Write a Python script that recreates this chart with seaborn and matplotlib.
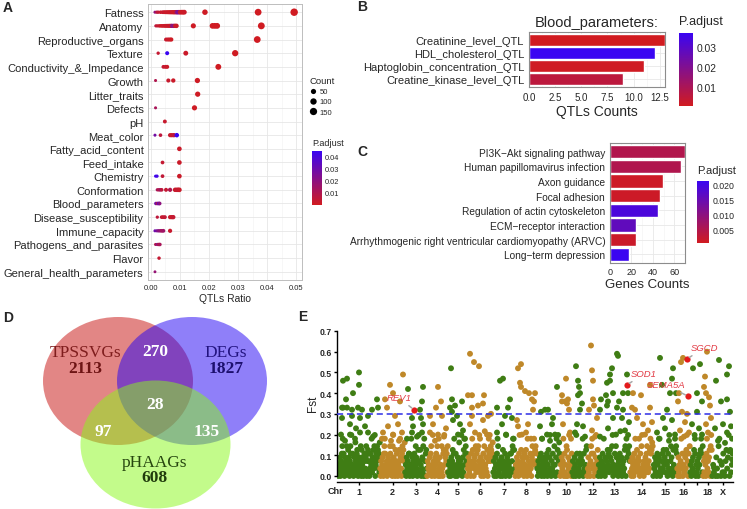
import numpy as np
import pandas as pd
import matplotlib
matplotlib.use('Agg')
import matplotlib as mpl
import matplotlib.pyplot as plt
import seaborn as sns
from matplotlib.colors import LinearSegmentedColormap, Normalize
from matplotlib.patches import Ellipse
from matplotlib.lines import Line2D
from matplotlib.ticker import MultipleLocator, FormatStrFormatter

# ---------------- data: panel A (QTL enrichment) ----------------
qtl_traits = ['Fatness', 'Anatomy', 'Reproductive_organs', 'Texture', 'Conductivity_&_Impedance',
              'Growth', 'Litter_traits', 'Defects', 'pH', 'Meat_color', 'Fatty_acid_content',
              'Feed_intake', 'Chemistry', 'Conformation', 'Blood_parameters', 'Disease_susceptibility',
              'Immune_capacity', 'Pathogens_and_parasites', 'Flavor', 'General_health_parameters']
# (QTLs ratio, count, p.adjust)
qtl_points = {
    'Fatness': [(0.0014, 5, .020), (0.0020, 7, .008), (0.0025, 8, .005), (0.0033, 11, .003), (0.0040, 13, .002),
                (0.0045, 15, .004), (0.0050, 17, .001), (0.0055, 18, .003), (0.0060, 20, .002), (0.0065, 22, .001),
                (0.0070, 23, .004), (0.0075, 25, .002), (0.0080, 27, .001), (0.0085, 28, .005), (0.0090, 30, .020),
                (0.0095, 31, .028), (0.0100, 33, .003), (0.0105, 35, .002), (0.0110, 36, .001), (0.0115, 38, .002),
                (0.0186, 62, .001), (0.0369, 122, .0005), (0.0493, 163, .0005)],
    'Anatomy': [(0.0017, 6, .006), (0.0022, 7, .004), (0.0028, 9, .003), (0.0033, 11, .002), (0.0038, 13, .001),
                (0.0043, 14, .003), (0.0048, 16, .002), (0.0053, 18, .001), (0.0058, 19, .004), (0.0063, 21, .002),
                (0.0068, 23, .001), (0.0072, 24, .018), (0.0078, 26, .022), (0.0083, 27, .003), (0.0088, 29, .002),
                (0.0146, 48, .001), (0.0212, 70, .0008), (0.0220, 73, .0008), (0.0228, 75, .0008), (0.0380, 126, .0005)],
    'Reproductive_organs': [(0.0052, 17, .003), (0.0058, 19, .002), (0.0064, 21, .002), (0.0070, 23, .001), (0.0366, 121, .0005)],
    'Texture': [(0.0025, 8, .004), (0.0056, 18, .045), (0.0120, 40, .002), (0.0290, 96, .0006)],
    'Conductivity_&_Impedance': [(0.0043, 14, .004), (0.0050, 17, .003), (0.0056, 18, .002), (0.0232, 77, .0007)],
    'Growth': [(0.0016, 5, .010), (0.0060, 20, .003), (0.0077, 25, .002), (0.0160, 53, .001)],
    'Litter_traits': [(0.0161, 53, .001)],
    'Defects': [(0.0016, 5, .012), (0.0150, 50, .001)],
    'pH': [(0.0048, 16, .003)],
    'Meat_color': [(0.0014, 5, .028), (0.0033, 11, .006), (0.0066, 22, .003), (0.0072, 24, .002), (0.0079, 26, .006), (0.0089, 29, .045)],
    'Fatty_acid_content': [(0.0098, 33, .002)],
    'Feed_intake': [(0.0040, 13, .004), (0.0098, 33, .002)],
    'Chemistry': [(0.0016, 5, .045), (0.0021, 7, .042), (0.0040, 13, .005), (0.0098, 33, .002)],
    'Conformation': [(0.0022, 7, .012), (0.0027, 9, .008), (0.0032, 11, .015), (0.0037, 12, .006), (0.0052, 17, .004),
                     (0.0066, 22, .010), (0.0083, 27, .003), (0.0088, 29, .002), (0.0093, 31, .004), (0.0098, 33, .002)],
    'Blood_parameters': [(0.0017, 9, .030), (0.0022, 11, .012), (0.0027, 12, .037), (0.0030, 13, .020)],
    'Disease_susceptibility': [(0.0022, 7, .006), (0.0037, 12, .004), (0.0042, 14, .003), (0.0048, 16, .005),
                               (0.0066, 22, .003), (0.0072, 24, .002), (0.0077, 25, .004)],
    'Immune_capacity': [(0.0014, 5, .030), (0.0021, 7, .025), (0.0027, 9, .020), (0.0033, 11, .018),
                        (0.0038, 12, .012), (0.0043, 14, .015), (0.0066, 22, .003)],
    'Pathogens_and_parasites': [(0.0016, 5, .010), (0.0022, 7, .020), (0.0027, 9, .008), (0.0031, 10, .012)],
    'Flavor': [(0.0028, 9, .004)],
    'General_health_parameters': [(0.0014, 4, .018)],
}
count_legend = [50, 100, 150]

# ---------------- data: panel B ----------------
blood_qtls = ['Creatinine_level_QTL', 'HDL_cholesterol_QTL', 'Haptoglobin_concentration_QTL', 'Creatine_kinase_level_QTL']
blood_counts = [13, 12, 11, 9]
blood_padj = [0.0006, 0.0370, 0.0012, 0.0055]

# ---------------- data: panel C ----------------
kegg_terms = ['PI3K\u2212Akt signaling pathway', 'Human papillomavirus infection', 'Axon guidance', 'Focal adhesion',
              'Regulation of actin cytoskeleton', 'ECM\u2212receptor interaction',
              'Arrhythmogenic right ventricular cardiomyopathy (ARVC)', 'Long\u2212term depression']
kegg_counts = [70, 66, 49, 47, 45, 24, 24, 18]
kegg_padj = [0.0050, 0.0052, 0.0012, 0.0013, 0.0190, 0.0160, 0.0016, 0.0212]

# ---------------- data: panel D (Venn) ----------------
venn_names = ['TPSSVGs', 'DEGs', 'pHAAGs']
venn_only = [2113, 1827, 608]
venn_ab, venn_ac, venn_bc, venn_abc = 270, 97, 135, 28

# ---------------- data: panel E (Fst Manhattan) ----------------
chroms = ['1', '2', '3', '4', '5', '6', '7', '8', '9', '10', '11', '12', '13', '14', '15', '16', '17', '18', 'X']
chrom_span = [42, 25, 22, 21, 19, 26, 22, 22, 23, 12, 15, 11, 32, 23, 24, 13, 13, 9, 21]
# dense low-Fst windows in SNP order: base-36 digit d = Fst of d*0.018
fst_low = {
    '1': '0312504168a362051428317250486b13620153942671035142807352016425801476402613a154728b03648572619',
    '2': '2041352068a63140251438624108b53207146203174a5206857419',
    '3': '130524166023a15042613852047b4173025180a40672',
    '4': '04231526803b14205361840a2503182067b3574618',
    '5': '130420514736a2061305249143b20517a36846',
    '6': '0235142063a7402538162784b1350241608c3251704a6b487569',
    '7': '14025306a814203520741360b2514302661487a72',
    '8': '03152406b32715420631750a24136205846a37846',
    '9': '204135260a14305241603715b20426138305a17b496',
    '10': '031524a0613087052b41306',
    '11': '1402530b6142063514a0621378',
    '12': '025130486a260315b247',
    '13': '0315204163a205142736175248b0316285130426c1503142780a57b684',
    '14': '140253061a42735140628b13042516831427a6798',
    '15': '03251406315a0241627351473062b148520731a786',
    '16': '2051304a260361527b40638',
    '17': '13042517b60314205367a618',
    '18': '0415306a2415708b7',
    'X': '031205208a40316104725b07136',
}
# high-Fst windows: (position within chromosome, Fst x100)
fst_high = {
    '1': [(5, 46), (9, 47), (21, 50), (21, 44), (15, 40), (8, 37), (5, 33), (9, 33), (4, 33), (14, 32), (20, 33), (24, 32),
          (4, 28), (14, 29), (22, 28), (12, 25), (18, 23), (3, 20), (12, 20), (22, 21), (30, 29), (34, 32), (30, 21),
          (39, 37), (40, 33), (27, 24), (35, 19), (7, 17), (17, 18)],
    '2': [(10, 44), (13, 40), (23, 49), (5, 37), (7, 33), (20, 36), (15, 29), (8, 24), (18, 25), (3, 21), (22, 21),
          (13, 20), (2, 18), (11, 17), (19, 17)],
    '3': [(3, 42), (18, 43), (17, 36), (7, 28), (15, 32), (16, 28), (18, 25), (8, 24), (7, 21), (17, 21), (12, 19), (2, 18)],
    '4': [(11, 43), (14, 36), (9, 33), (3, 29), (6, 25), (15, 29), (11, 20), (3, 21), (8, 17), (17, 19), (19, 23)],
    '5': [(3, 52), (4, 37), (7, 34), (14, 36), (4, 31), (9, 29), (12, 25), (5, 27), (10, 20), (2, 33), (15, 22), (17, 18)],
    '6': [(3, 59), (7, 55), (12, 53), (1, 39), (5, 39), (17, 39), (11, 34), (16, 35), (5, 33), (5, 29), (3, 25), (16, 27),
          (21, 29), (8, 21), (20, 20), (24, 30), (13, 18)],
    '7': [(7, 46), (10, 47), (17, 37), (4, 33), (15, 33), (12, 29), (9, 25), (4, 21), (19, 28), (13, 20), (20, 18)],
    '8': [(3, 52), (6, 54), (5, 45), (6, 43), (10, 41), (14, 40), (17, 37), (2, 27), (3, 24), (7, 20), (13, 25), (18, 32),
          (20, 40), (19, 36), (11, 21), (16, 18)],
    '9': [(8, 32), (11, 32), (3, 24), (15, 25), (16, 28), (20, 43), (18, 20), (10, 20), (4, 31), (5, 18), (13, 17)],
    '10': [(6, 47), (2, 36), (5, 36), (8, 37), (7, 35), (3, 25), (10, 21), (9, 32), (2, 39), (11, 18)],
    '11': [(4, 53), (6, 46), (7, 43), (8, 40), (6, 39), (10, 35), (8, 32), (5, 25), (11, 24), (3, 21), (13, 19)],
    '12': [(4, 63), (5, 51), (6, 46), (6, 37), (2, 32), (10, 28), (5, 22), (7, 34), (8, 19)],
    '13': [(19, 59), (20, 58), (14, 52), (12, 49), (12, 46), (9, 45), (8, 39), (3, 37), (10, 36), (15, 40), (21, 36),
           (19, 33), (29, 49), (25, 40), (30, 40), (2, 32), (9, 34), (25, 32), (24, 28), (15, 28), (10, 23), (2, 19),
           (27, 22), (18, 20), (31, 26)],
    '14': [(3, 40), (11, 39), (2, 33), (7, 28), (13, 25), (18, 22), (20, 44), (5, 32), (15, 20), (20, 33), (9, 18), (22, 26)],
    '15': [(7, 57), (9, 44), (19, 47), (20, 52), (17, 40), (23, 40), (14, 32), (10, 28), (19, 27), (4, 21), (12, 23),
           (22, 20), (6, 18), (16, 17)],
    '16': [(4, 55), (6, 57), (1, 36), (2, 40), (5, 31), (8, 26), (3, 22), (10, 30), (7, 19), (12, 21)],
    '17': [(3, 52), (7, 40), (10, 54), (12, 36), (7, 31), (2, 25), (12, 20), (5, 18), (9, 23)],
    '18': [(4, 60), (2, 48), (1, 43), (7, 34), (3, 25), (5, 21), (3, 40), (6, 38), (8, 28)],
    'X': [(7, 56), (17, 53), (4, 46), (15, 49), (9, 36), (15, 37), (18, 31), (11, 25), (15, 21), (20, 18), (3, 23),
          (19, 24), (6, 17), (13, 16), (17, 12), (20, 8), (2, 4)],
}
fst_threshold = 0.3
gene_names = ['REV1', 'SOD1', 'SGCD', 'SEMA5A']
gene_chrom = ['3', '13', '16', '16']
gene_offset = [9, 29, 10, 11]
gene_fst = [0.32, 0.44, 0.565, 0.385]

# ---------------- style ----------------
sns.set_theme(style='white')
plt.rcParams['font.family'] = ['Liberation Sans', 'DejaVu Sans']
plt.rcParams['axes.unicode_minus'] = True

W, H = 747, 510
fig = plt.figure(figsize=(W / 100, H / 100), dpi=100)


def px_axes(l, t, r, b):
    return fig.add_axes([l / W, 1 - b / H, (r - l) / W, (b - t) / H])


def ftext(x, y, s, **kw):
    return fig.text(x / W, 1 - y / H, s, **kw)


cmap = LinearSegmentedColormap.from_list('padj', ['#d11b20', '#3a05f2'])

# ================= Panel D (Venn) drawn first so others sit on top =================
axD = px_axes(0, 305, 280, 510)
axD.set_xlim(0, 280)
axD.set_ylim(510, 305)
axD.axis('off')
venn_fill = ['#c70f0d', '#2101f5', '#89f919']
venn_centers = [(118, 382), (192, 382), (155.5, 445.5)]
for (cx, cy), fc in zip(venn_centers, venn_fill):
    axD.add_patch(Ellipse((cx, cy), 150, 128, facecolor=fc, edgecolor='none', alpha=0.5))
serif = ['Liberation Serif', 'DejaVu Serif']
fsV = 12.5
axD.text(85, 353, venn_names[0], color='#7f1d1d', fontsize=fsV, family=serif, ha='center', va='center')
axD.text(85, 369, str(venn_only[0]), color='#6e1414', fontsize=fsV, family=serif, fontweight='bold', ha='center', va='center')
axD.text(226, 353, venn_names[1], color='#22137f', fontsize=fsV, family=serif, ha='center', va='center')
axD.text(226, 369, str(venn_only[1]), color='#1c0f6e', fontsize=fsV, family=serif, fontweight='bold', ha='center', va='center')
axD.text(155, 463, venn_names[2], color='#26460f', fontsize=fsV, family=serif, ha='center', va='center')
axD.text(155, 478, str(venn_only[2]), color='#203c0c', fontsize=fsV, family=serif, fontweight='bold', ha='center', va='center')
for (x, y), v in zip([(155, 352), (103, 432), (207, 432), (155, 405)], [venn_ab, venn_ac, venn_bc, venn_abc]):
    axD.text(x, y, str(v), color='white', fontsize=fsV, family=serif, fontweight='bold', ha='center', va='center')

# ================= Panel A =================
rows = []
for tr in qtl_traits:
    for r, c, p in qtl_points[tr]:
        rows.append((tr, r, c, p))
dfA = pd.DataFrame(rows, columns=['trait', 'ratio', 'count', 'padj'])

c0, c1 = 3, 165


def count_area(c):
    d = 1.8 + 3.6 * np.sqrt(max(c - c0, 0) / (c1 - c0))
    return d * d


size_map = {c: count_area(c) for c in sorted(dfA['count'].unique())}

axA = px_axes(148, 5, 302, 281)
normA = Normalize(0, 0.045)
sns.scatterplot(data=dfA, x='ratio', y='trait', hue='padj', palette=cmap, hue_norm=normA,
                size='count', sizes=size_map, legend=False, linewidth=0, ax=axA, zorder=3)
axA.set_xlim(-0.001, 0.052)
axA.set_ylim(len(qtl_traits) - 0.4, -0.6)
axA.set_yticks(range(len(qtl_traits)))
axA.set_yticklabels(qtl_traits, fontsize=8)
axA.set_xticks([0, 0.01, 0.02, 0.03, 0.04, 0.05])
axA.xaxis.set_major_formatter(FormatStrFormatter('%.2f'))
axA.xaxis.set_minor_locator(MultipleLocator(0.005))
axA.tick_params(axis='x', labelsize=5.5, length=2, width=0.5, pad=0.8, color='#333333')
axA.tick_params(axis='y', length=2, width=0.5, pad=1.2, color='#333333')
axA.set_axisbelow(True)
axA.grid(True, which='major', color='#e6e6e6', lw=0.6)
axA.grid(True, which='minor', axis='x', color='#f1f1f1', lw=0.4)
for s in axA.spines.values():
    s.set_color('#bdbdbd')
    s.set_linewidth(0.7)
axA.set_xlabel('QTLs Ratio', fontsize=7.4, labelpad=1.5)
axA.set_ylabel('')

handles = [Line2D([], [], marker='o', ls='', color='black', markeredgewidth=0,
                  markersize=np.sqrt(count_area(c))) for c in count_legend]
lg = fig.legend(handles, [str(c) for c in count_legend], title='Count', loc='upper left',
                bbox_to_anchor=(309 / W, 1 - 77 / H), frameon=False, fontsize=5.5, title_fontsize=6.8,
                handlelength=1.0, handletextpad=0.4, labelspacing=0.38, borderaxespad=0, borderpad=0)
lg._legend_box.align = 'left'

ftext(312, 143, 'P.adjust', fontsize=6.5, ha='left', va='center')
caxA = px_axes(312, 152, 322, 206)
cbA = fig.colorbar(mpl.cm.ScalarMappable(norm=normA, cmap=cmap), cax=caxA, ticks=[0.01, 0.02, 0.03, 0.04])
cbA.outline.set_visible(False)
cbA.ax.yaxis.set_major_formatter(FormatStrFormatter('%.2f'))
cbA.ax.tick_params(labelsize=5.3, length=2, width=0.5, color='white', direction='in', pad=2)


# ================= bar panels helper =================
def style_bar_axes(ax):
    ax.set_axisbelow(True)
    ax.grid(True, which='major', color='#e8e8e8', lw=0.6)
    ax.grid(True, which='minor', axis='x', color='#f2f2f2', lw=0.4)
    for s in ax.spines.values():
        s.set_color('#8c8c8c')
        s.set_linewidth(0.8)


# ================= Panel B =================
normB = Normalize(0.0005, 0.037)
colB = [cmap(normB(p)) for p in blood_padj]
axB = px_axes(529, 33, 665, 88)
sns.barplot(x=blood_counts, y=blood_qtls, hue=blood_qtls, palette=colB, legend=False,
            saturation=1, width=0.9, ax=axB, orient='h')
axB.set_xlim(0, 13)
axB.set_ylim(len(blood_qtls) - 0.4, -0.6)
axB.set_xticks([0, 2.5, 5, 7.5, 10, 12.5])
axB.set_xticklabels(['0.0', '2.5', '5.0', '7.5', '10.0', '12.5'])
axB.xaxis.set_minor_locator(MultipleLocator(1.25))
axB.tick_params(axis='x', labelsize=7, length=2.5, width=0.6, pad=1.1, color='#333333')
axB.tick_params(axis='y', labelsize=8, length=2.5, width=0.6, pad=1, color='#333333')
style_bar_axes(axB)
axB.set_xlabel('QTLs Counts', fontsize=10, labelpad=1.5)
axB.set_title('Blood_parameters:', fontsize=10.5, pad=4)

ftext(679, 22, 'P.adjust', fontsize=9, ha='left', va='center')
caxB = px_axes(679, 34, 693, 107)
cbB = fig.colorbar(mpl.cm.ScalarMappable(norm=normB, cmap=cmap), cax=caxB, ticks=[0.01, 0.02, 0.03])
cbB.outline.set_visible(False)
cbB.ax.yaxis.set_major_formatter(FormatStrFormatter('%.2f'))
cbB.ax.tick_params(labelsize=7.4, length=2.5, width=0.5, color='white', direction='in', pad=2.5)

# ================= Panel C =================
normC = Normalize(0.0006, 0.0213)
colC = [cmap(normC(p)) for p in kegg_padj]
axC = px_axes(610, 144, 685, 264)
sns.barplot(x=kegg_counts, y=kegg_terms, hue=kegg_terms, palette=colC, legend=False,
            saturation=1, width=0.9, ax=axC, orient='h')
axC.set_xlim(0, 70)
axC.set_ylim(len(kegg_terms) - 0.4, -0.6)
axC.set_xticks([0, 20, 40, 60])
axC.xaxis.set_minor_locator(MultipleLocator(10))
axC.tick_params(axis='x', labelsize=6.5, length=2.5, width=0.6, pad=0.7, color='#333333')
axC.tick_params(axis='y', labelsize=7.3, length=2.5, width=0.6, pad=1, color='#333333')
style_bar_axes(axC)
axC.set_xlabel('Genes Counts', fontsize=9.5, labelpad=1)

ftext(697, 171, 'P.adjust', fontsize=8, ha='left', va='center')
caxC = px_axes(697, 182, 709, 244)
cbC = fig.colorbar(mpl.cm.ScalarMappable(norm=normC, cmap=cmap), cax=caxC,
                   ticks=[0.005, 0.010, 0.015, 0.020])
cbC.outline.set_visible(False)
cbC.ax.yaxis.set_major_formatter(FormatStrFormatter('%.3f'))
cbC.ax.tick_params(labelsize=6.3, length=2.5, width=0.5, color='white', direction='in', pad=2.5)

# ================= Panel E (Manhattan) =================
starts = np.concatenate([[0], np.cumsum(chrom_span)[:-1]])
chr_start = dict(zip(chroms, starts))
recs = []
for i, ch in enumerate(chroms):
    grp = 'g' if i % 2 == 0 else 'o'
    low = fst_low[ch]
    n = len(low)
    w = chrom_span[i]
    for j, d in enumerate(low):
        recs.append((chr_start[ch] + (j + 0.5) * w / n, int(d, 36) * 0.018, grp))
    for off, f in fst_high[ch]:
        recs.append((chr_start[ch] + off, f / 100.0, grp))
dfE = pd.DataFrame(recs, columns=['pos', 'fst', 'grp'])

axE = px_axes(337, 332, 733, 483)
axE.patch.set_alpha(0)
sns.scatterplot(data=dfE, x='pos', y='fst', hue='grp', palette={'g': '#3f7d14', 'o': '#bf8829'},
                s=18, linewidth=0, legend=False, ax=axE)
axE.axhline(fst_threshold, color='#2e2ee6', lw=1.1, ls=(0, (4, 2.5)), zorder=4)
gx = [chr_start[c] + o for c, o in zip(gene_chrom, gene_offset)]
sns.scatterplot(x=gx, y=gene_fst, color='#e31a1c', s=20, linewidth=0, legend=False, ax=axE, zorder=5)
label_xy = [(61, 0.377), (306, 0.493), (366, 0.618), (328, 0.44)]
for name, x, y, (lx, ly) in zip(gene_names, gx, gene_fst, label_xy):
    axE.annotate(name, xy=(x, y), xytext=(lx, ly), fontsize=6.8, style='italic', color='#e23a44',
                 ha='center', va='center', zorder=6,
                 arrowprops=dict(arrowstyle='-', color='#a8a8a8', lw=1.1, shrinkA=0, shrinkB=2))
axE.set_xlim(-1, 395)
axE.set_ylim(-0.029, 0.70)
axE.set_yticks([0, 0.1, 0.2, 0.3, 0.4, 0.5, 0.6, 0.7])
axE.yaxis.set_major_formatter(FormatStrFormatter('%.1f'))
centers = [chr_start[c] + w / 2 for c, w in zip(chroms, chrom_span)]
axE.set_xticks(centers)
axE.set_xticklabels(['' if c in ('11', '17') else c for c in chroms])
for lab in axE.get_xticklabels() + axE.get_yticklabels():
    lab.set_fontweight('bold')
axE.tick_params(axis='x', labelsize=6.5, length=2.5, width=1, pad=0.8, color='black', bottom=True)
axE.tick_params(axis='y', labelsize=6.2, length=2, width=1, pad=1.5, color='black', left=True)
axE.spines['top'].set_visible(False)
axE.spines['right'].set_visible(False)
axE.spines['left'].set_bounds(0, 0.7)
for s in ('left', 'bottom'):
    axE.spines[s].set_color('black')
    axE.spines[s].set_linewidth(1.0)
axE.set_xlabel('')
axE.set_ylabel('')
ftext(313, 404, 'Fst', rotation=90, fontsize=8.5, ha='center', va='center')
ftext(335, 492, 'Chr', fontsize=6.5, fontweight='bold', ha='center', va='center')

# ================= panel letters =================
for (x, y, s) in [(8, 8, 'A'), (362, 7, 'B'), (362, 152, 'C'), (8, 318, 'D'), (303, 317, 'E')]:
    ftext(x, y, s, fontsize=10, fontweight='bold', ha='center', va='center')

fig.savefig('out.png', dpi=100)
